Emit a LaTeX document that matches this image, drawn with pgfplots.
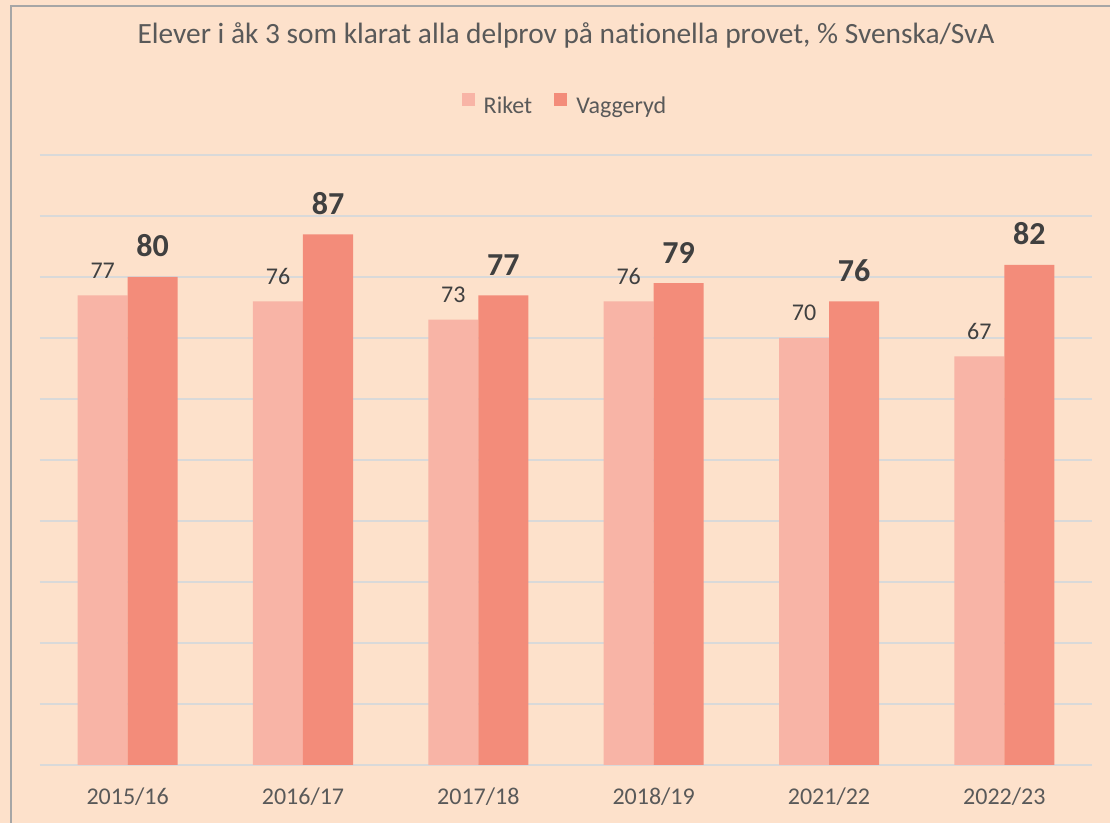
\documentclass[border=0pt]{standalone}
\usepackage{pgfplots}
\pgfplotsset{compat=1.18}
\usepackage{fontspec}
\setmainfont{Carlito}[Ligatures=NoCommon]
\definecolor{bg}{HTML}{FDE1CB}
\definecolor{riket}{HTML}{F8B4A6}
\definecolor{vagg}{HTML}{F38C7A}
\definecolor{gridc}{HTML}{D9D9D9}
\definecolor{txt}{HTML}{595959}
\definecolor{lab}{HTML}{404040}
\definecolor{framec}{HTML}{A6A6A6}
\begin{document}
\begin{tikzpicture}[x=1pt,y=1pt]
\useasboundingbox (0,0) rectangle (555,411.5);
\fill[bg] (0,0) rectangle (555,411.5);
\draw[framec, line width=1.2pt] (5.5,0) -- (5.5,408.5) -- (555,408.5);
\begin{axis}[
  at={(20pt,29pt)}, anchor=south west,
  scale only axis, width=526pt, height=305pt,
  xmin=-0.5, xmax=5.5, ymin=0, ymax=100,
  ybar=0pt, bar width=25pt,
  /pgf/number format/assume math mode=true,
  xtick={0,1,2,3,4,5},
  xticklabels={2015/16,2016/17,2017/18,2018/19,2021/22,2022/23},
  ytick={0,10,...,100}, yticklabels={,,,,,,,,,,},
  ymajorgrids, grid style={gridc, line width=1pt},
  axis line style={draw=none}, tick style={draw=none},
  major tick length=0pt,
  xticklabel style={font=\fontsize{12}{14}\selectfont, text=txt, anchor=north, inner sep=0pt, yshift=-11pt},
  title={Elever i åk 3 som klarat alla delprov på nationella provet, \% Svenska/SvA},
  title style={at={(0.5,1)}, anchor=base, yshift=49.5pt, font=\fontsize{14.7}{17}\selectfont, text=txt},
  legend style={at={(0.5,1)}, anchor=center, yshift=24pt, draw=none, fill=none,
    legend columns=2, font=\fontsize{12}{14}\selectfont, text=txt,
    /tikz/every even column/.append style={column sep=9pt}},
  legend image code/.code={\fill[#1] (0pt,0.3pt) rectangle (6.5pt,6.8pt);},
]
\addplot[fill=riket, draw=none, nodes near coords,
  every node near coord/.append style={anchor=base, inner sep=0pt, yshift=8.5pt, font=\fontsize{12}{14}\selectfont, text=lab}]
  coordinates {(0,77) (1,76) (2,73) (3,76) (4,70) (5,67)};
\addlegendentry{\hspace{2.5pt}Riket}
\addplot[fill=vagg, draw=none, nodes near coords,
  every node near coord/.append style={anchor=base, inner sep=0pt, yshift=10pt, font=\fontsize{16}{18}\selectfont\bfseries, text=lab}]
  coordinates {(0,80) (1,87) (2,77) (3,79) (4,76) (5,82)};
\addlegendentry{\hspace{2.5pt}Vaggeryd}
\end{axis}
\end{tikzpicture}
\end{document}
